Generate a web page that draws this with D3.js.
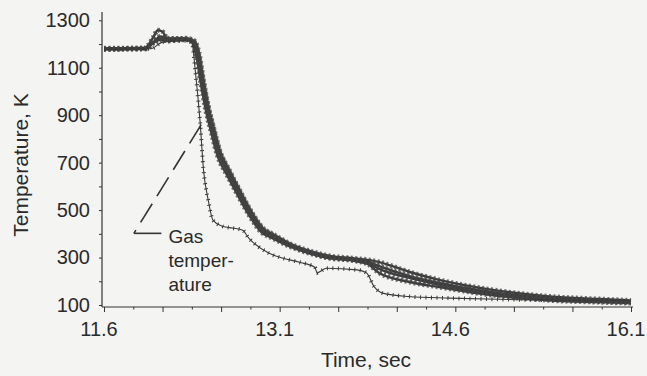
<!DOCTYPE html>
<html>
<head>
<meta charset="utf-8">
<script src="https://cdn.jsdelivr.net/npm/d3@7"></script>
<style>
  html, body { margin: 0; padding: 0; background: #f4f4f2; }
  svg { display: block; font-family: "Liberation Sans", Arial, sans-serif; }
</style>
</head>
<body>
<div id="chart"></div>
<script>
// Temperature traces (time in sec, temperature in K)
const probeA = [[11.6,1180],[11.95,1182],[12.02,1205],[12.08,1232],[12.15,1222],[12.3,1224],[12.37,1214],[12.41,1165],[12.45,1045],[12.49,940],[12.54,840],[12.59,750],[12.67,668],[12.76,582],[12.86,492],[12.97,418],[13.03,402],[13.2,356],[13.37,326],[13.54,306],[13.7,298],[13.87,289],[13.95,281],[14.21,239],[14.46,206],[14.89,166],[15.4,136],[15.83,125],[16.1,119]];
const probeB = [[11.6,1178],[11.95,1180],[12.03,1212],[12.08,1222],[12.15,1216],[12.3,1220],[12.36,1210],[12.4,1155],[12.44,1035],[12.48,930],[12.53,830],[12.58,740],[12.66,658],[12.75,572],[12.85,482],[12.96,410],[13.02,396],[13.19,351],[13.36,321],[13.53,301],[13.7,294],[13.85,283],[13.95,264],[14.21,222],[14.46,193],[14.89,156],[15.4,129],[15.83,118],[16.1,113]];
const probeC = [[11.6,1182],[11.95,1184],[12.02,1228],[12.06,1258],[12.1,1252],[12.14,1224],[12.3,1222],[12.36,1214],[12.4,1170],[12.44,1065],[12.48,955],[12.53,855],[12.58,758],[12.66,672],[12.75,588],[12.85,495],[12.96,420],[13.02,402],[13.19,353],[13.36,321],[13.53,299],[13.7,291],[13.85,279],[13.95,252],[14.21,214],[14.46,186],[14.89,149],[15.4,124],[15.83,115],[16.1,110]];
const probeD = [[11.6,1178],[11.95,1180],[12.03,1208],[12.08,1218],[12.15,1214],[12.3,1218],[12.35,1208],[12.39,1145],[12.43,1025],[12.47,920],[12.52,820],[12.57,728],[12.65,648],[12.74,565],[12.84,478],[12.95,404],[13.02,386],[13.19,346],[13.36,317],[13.53,297],[13.7,289],[13.85,273],[13.95,235],[14.21,197],[14.46,176],[14.89,143],[15.4,120],[15.83,112],[16.1,108]];
const gasTemp = [[11.6,1178],[12.0,1180],[12.1,1208],[12.3,1214],[12.35,1205],[12.38,1085],[12.42,875],[12.45,668],[12.49,542],[12.53,458],[12.61,432],[12.67,426],[12.78,416],[12.84,380],[13.01,318],[13.13,297],[13.27,280],[13.4,259],[13.42,236],[13.5,255],[13.76,248],[13.84,236],[13.91,175],[13.98,150],[14.2,136],[14.55,129],[14.97,124],[16.08,118]];

const timeTicks = [11.6, 13.1, 14.6, 16.1];
const tempTicks = [100, 300, 500, 700, 900, 1100, 1300];

// annotation pointer, in data units
const notePointer = [[12.43, 860], [11.855, 402], [12.09, 402]];
const noteLines = ['Gas', 'temper-', 'ature'];
const noteAnchor = [12.15, 362];

const width = 647, height = 376;
const ink = '#333';

const svg = d3.select('#chart').append('svg')
  .attr('width', width)
  .attr('height', height);

const x = d3.scaleLinear().domain([11.6, 16.1]).range([104, 631]);
const y = d3.scaleLinear().domain([100, 1335]).range([305, 12]);
const axisY = 307;

// y axis
const yAxis = svg.append('g')
  .attr('transform', 'translate(102,0)')
  .call(d3.axisLeft(y)
    .tickValues(d3.range(100, 1301, 100))
    .tickSize(3)
    .tickSizeOuter(0)
    .tickFormat(d => tempTicks.includes(d) ? d : ''));
yAxis.select('.domain').attr('d', `M0,${axisY}V${y(1335)}`);
yAxis.selectAll('line').attr('stroke', ink);
yAxis.selectAll('path').attr('stroke', ink).attr('stroke-width', 1.2);
yAxis.selectAll('text')
  .attr('x', -12)
  .attr('font-size', 20)
  .attr('fill', '#2a2a2a')
  .attr('font-family', '"Liberation Sans", Arial, sans-serif');

// x axis
const xAxis = svg.append('g')
  .attr('transform', `translate(0,${axisY})`)
  .call(d3.axisBottom(x)
    .tickValues(d3.range(0, 19).map(i => 11.6 + i * 0.25))
    .tickSize(0)
    .tickFormat(''));
xAxis.select('.domain').attr('d', 'M102,0H633').attr('stroke', ink).attr('stroke-width', 1.2);
xAxis.selectAll('.tick line')
  .attr('stroke', ink)
  .attr('y2', (d, i) => i % 2 === 0 ? 5 : 2.5);

svg.append('g').selectAll('text')
  .data(timeTicks)
  .join('text')
  .attr('x', d => x(d) - 5)
  .attr('y', 336)
  .attr('text-anchor', 'middle')
  .attr('font-size', 20)
  .attr('fill', '#2a2a2a')
  .text(d => d.toFixed(1));

// axis titles
svg.append('text')
  .attr('x', 366)
  .attr('y', 367)
  .attr('text-anchor', 'middle')
  .attr('font-size', 21)
  .attr('fill', '#2a2a2a')
  .text('Time, sec');

svg.append('text')
  .attr('transform', 'translate(28,165) rotate(-90)')
  .attr('text-anchor', 'middle')
  .attr('font-size', 21)
  .attr('fill', '#2a2a2a')
  .text('Temperature, K');

const line = d3.line()
  .x(d => x(d[0]))
  .y(d => y(d[1]))
  .curve(d3.curveMonotoneX);

// thick probe traces, drawn as a solid core with a serrated marker overlay
const probes = [probeA, probeB, probeC, probeD];
const plot = svg.append('g');

plot.selectAll('path.core')
  .data(probes)
  .join('path')
  .attr('class', 'core')
  .attr('d', line)
  .attr('fill', 'none')
  .attr('stroke', '#3c3c3c')
  .attr('stroke-width', 2.4);

plot.selectAll('path.marks')
  .data(probes)
  .join('path')
  .attr('class', 'marks')
  .attr('d', line)
  .attr('fill', 'none')
  .attr('stroke', '#444')
  .attr('stroke-width', 5)
  .attr('stroke-dasharray', '2 2.5')
  .attr('stroke-opacity', 0.75);

// gas temperature trace
plot.append('path')
  .datum(gasTemp)
  .attr('d', line)
  .attr('fill', 'none')
  .attr('stroke', '#3a3a3a')
  .attr('stroke-width', 1.1);

plot.append('path')
  .datum(gasTemp)
  .attr('d', line)
  .attr('fill', 'none')
  .attr('stroke', '#3a3a3a')
  .attr('stroke-width', 4)
  .attr('stroke-dasharray', '1 4.5');

// annotation
svg.append('path')
  .attr('d', `M${x(notePointer[0][0])},${y(notePointer[0][1])}L${x(notePointer[1][0])},${y(notePointer[1][1])}`)
  .attr('fill', 'none')
  .attr('stroke', ink)
  .attr('stroke-width', 1.6)
  .attr('stroke-dasharray', '22 9');

svg.append('path')
  .attr('d', `M${x(notePointer[1][0])},${y(notePointer[1][1])}L${x(notePointer[2][0])},${y(notePointer[2][1])}`)
  .attr('fill', 'none')
  .attr('stroke', ink)
  .attr('stroke-width', 1.6);

svg.append('g').selectAll('text')
  .data(noteLines)
  .join('text')
  .attr('x', x(noteAnchor[0]))
  .attr('y', (d, i) => y(noteAnchor[1]) + i * 24)
  .attr('font-size', 19)
  .attr('fill', '#2a2a2a')
  .text(d => d);
</script>
</body>
</html>
